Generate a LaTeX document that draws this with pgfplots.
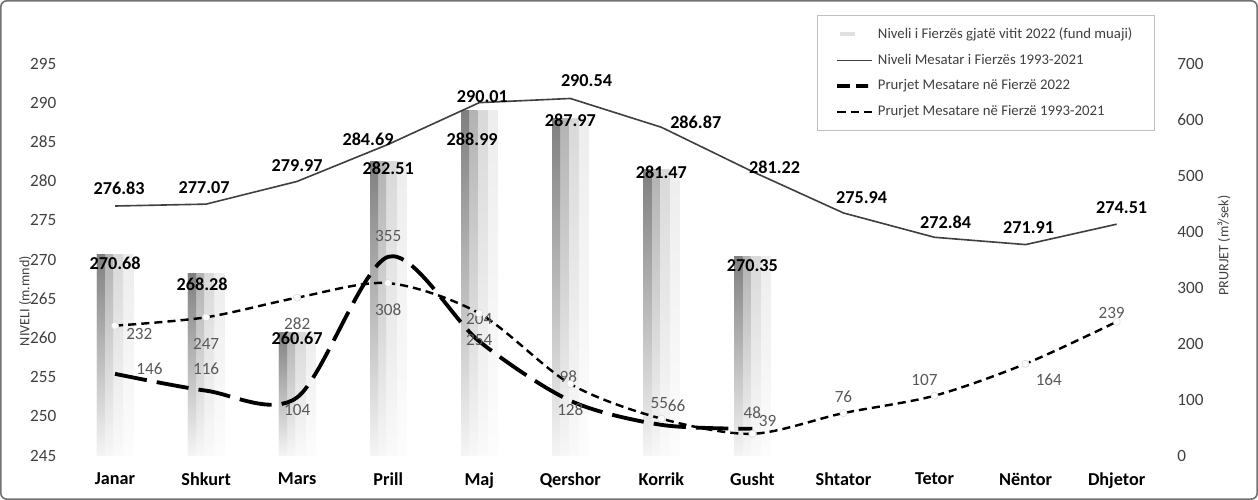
\documentclass[border=0pt]{standalone}
\usepackage{pgfplots}
\pgfplotsset{compat=1.18}
\usepackage{pgfplotstable}
\usepackage{fontspec}
\setmainfont{Carlito}
\definecolor{txt}{HTML}{404040}
\definecolor{lblc}{HTML}{595959}

\pgfplotstableread{
x v dx dy
0 270.68 0 -4.5
1 268.28 -2 -5.5
2 260.67 0 -3
3 282.51 0 -3.5
4 288.99 -3.5 -14
5 287.97 0 -1
6 281.47 0 -1.5
7 270.35 0 -4.5
}\bars

\pgfplotstableread{
x v dx dy
0 276.83 2 9
1 277.07 -1 8
2 279.97 0 8
3 284.69 -10 2.5
4 290.01 1.5 3
5 290.54 8 9
6 286.87 17 2.5
7 281.22 11 2
8 275.94 9 7.5
9 272.84 5.5 7.5
10 271.91 1.5 8.5
11 274.51 2.5 8
}\avglev

\pgfplotstableread{
x v dx dy
0 146 17 2.5
1 116 0 11
2 104 0 -6
3 355 0 10.5
4 204 0 11
5 98 -1 12
6 55 -1 11
7 48 0 8
}\flowA

\pgfplotstableread{
x v dx dy
0 232 12 -4
1 247 0 -13
2 282 0 -13
3 308 0 -13
4 254 0 -13
5 128 0 -12.5
6 66 7.5 6.5
7 39 7.5 6.5
8 76 0 8
9 107 -5 8
10 164 11.5 -8
11 239 -2.5 4.5
}\flowB

\pgfplotsset{
  base/.style={
    scale only axis, width=540.5pt, height=194pt,
    xmin=-0.5, xmax=11.5, clip=false,
    axis line style={draw=none}, major tick length=0pt,
    tick label style={font=\fontsize{8.5}{10}\selectfont, text=txt},
    /pgf/number format/assume math mode=true,
  },
  dlabels/.style={
    nodes near coords, point meta=explicit symbolic,
    visualization depends on={\thisrow{dx} \as \ddx},
    visualization depends on={\thisrow{dy} \as \ddy},
    every node near coord/.append style={anchor=center, xshift=\ddx pt, yshift=\ddy pt, inner sep=0pt},
  },
}

\begin{document}
\begin{tikzpicture}
\begin{axis}[base, name=ax,
  ymin=245, ymax=295,
  ytick={245,250,255,260,265,270,275,280,285,290,295},
  yticklabels={245,250,255,260,265,270,275,280,285,290,295},
  y coord trafo/.code={\pgfmathparse{#1-245}},
  y coord inv trafo/.code={\pgfmathparse{#1+245}},
  xtick={0,...,11},
  xticklabels={Janar,Shkurt,Mars,Prill,Maj,Qershor,Korrik,Gusht,Shtator,Tetor,Nëntor,Dhjetor},
  xticklabel style={font=\fontsize{9}{10}\selectfont\bfseries, text=black, yshift=-5pt},
  yticklabel style={xshift=-3pt},
  ylabel={NIVELI (m.mnd)},
  ylabel style={at={(axis description cs:-0.0407,0.394)}, anchor=center, font=\fontsize{7}{8}\selectfont, text=txt},
]
\pgfplotsinvokeforeach{0,...,7}{
\addplot[ybar, bar width=18pt, bar shift=0pt, draw=none, top color=black!7, middle color=black!3, bottom color=black!1,
  restrict x to domain=#1:#1] table[x=x,y=v]{\bars};
\addplot[ybar, bar width=13pt, bar shift=-2.5pt, draw=none, top color=black!15, middle color=black!5, bottom color=black!2,
  restrict x to domain=#1:#1] table[x=x,y=v]{\bars};
\addplot[ybar, bar width=8pt, bar shift=-5pt, draw=none, top color=black!30, middle color=black!8, bottom color=black!3,
  restrict x to domain=#1:#1] table[x=x,y=v]{\bars};
\addplot[ybar, bar width=4pt, bar shift=-7pt, draw=none, top color=black!50, middle color=black!12, bottom color=black!4,
  restrict x to domain=#1:#1] table[x=x,y=v]{\bars};
}
\addplot[draw=none, dlabels, every node near coord/.append style={font=\fontsize{9}{10}\selectfont\bfseries, text=black}]
  table[x=x,y=v,meta=v]{\bars};
\addplot[txt, line width=0.8pt, mark=none, dlabels, every node near coord/.append style={font=\fontsize{9}{10}\selectfont\bfseries, text=black}]
  table[x=x,y=v,meta=v]{\avglev};
\end{axis}

\begin{axis}[base,
  ymin=0, ymax=700, ytick={0,100,...,700},
  axis y line*=right, xtick=\empty,
  yticklabel style={xshift=4pt},
  ylabel={PRURJET (m³/sek)},
  ylabel style={at={(axis description cs:1.0564,0.536)}, anchor=center, font=\fontsize{7}{8}\selectfont, text=txt},
  legend style={at={(axis description cs:0.9935,1.1237)}, anchor=north east, draw=black!25,
    font=\fontsize{7.3}{8}\selectfont, text=txt, row sep=2.2pt, inner xsep=9pt, inner ysep=4pt},
  legend cell align=left,
]
\addlegendimage{legend image code/.code={\draw[black!12, line width=2pt] (0.05cm,0cm) -- (0.3cm,0cm);}}
\addlegendentry{Niveli i Fierzës gjatë vitit 2022 (fund muaji)}
\addlegendimage{txt, line width=0.8pt}
\addlegendentry{Niveli Mesatar i Fierzës 1993-2021}
\addplot[black, line width=1.9pt, smooth, mark=none, dash pattern=on 16pt off 5pt,
  legend image post style={dash pattern=on 6pt off 3pt},
  dlabels, every node near coord/.append style={font=\fontsize{8.5}{10}\selectfont, text=lblc}]
  table[x=x,y=v,meta=v]{\flowA};
\addlegendentry{Prurjet Mesatare në Fierzë 2022}
\addplot[black, line width=1.2pt, smooth, dash pattern=on 4pt off 2.5pt,
  mark=*, mark size=1.8pt, mark options={solid, fill=white, draw=black!15, line width=0.3pt},
  legend image post style={mark=none},
  dlabels, every node near coord/.append style={font=\fontsize{8.5}{10}\selectfont, text=lblc}]
  table[x=x,y=v,meta=v]{\flowB};
\addlegendentry{Prurjet Mesatare në Fierzë 1993-2021}
\end{axis}
\draw[black!55, line width=0.8pt, rounded corners=3pt] ([shift={(-34pt,-21.5pt)}]ax.south west) rectangle ([shift={(587.5pt,225pt)}]ax.south west);
\end{tikzpicture}
\end{document}
